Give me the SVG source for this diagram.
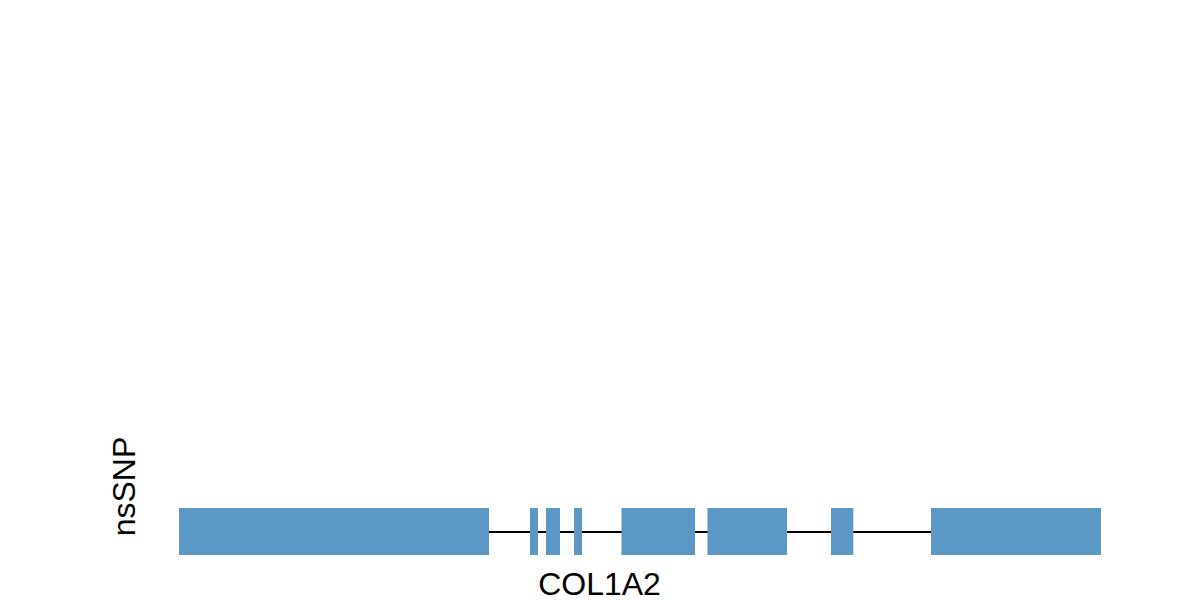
<svg xmlns="http://www.w3.org/2000/svg" width="1200" height="600" viewBox="0 0 1200 600">
<style>
.exon{fill:#5b98c5;}
.lbl{font-family:"Liberation Sans",Arial,sans-serif;font-size:32px;fill:#000;}
</style>
<rect width="1200" height="600" fill="#fff"/>
<g id="connectors">
<line x1="489" y1="532" x2="931" y2="532" stroke="#000" stroke-width="2"/>
</g>
<g id="gene">
<rect class="exon" x="179" y="508" width="310" height="47"/>
<rect class="exon" x="530" y="508" width="8" height="47"/>
<rect class="exon" x="546" y="508" width="14" height="47"/>
<rect class="exon" x="574" y="508" width="8" height="47"/>
<rect class="exon" x="621.5" y="508" width="73.5" height="47"/>
<rect class="exon" x="707.5" y="508" width="79.5" height="47"/>
<rect class="exon" x="831" y="508" width="22.3" height="47"/>
<rect class="exon" x="931" y="508" width="170" height="47"/>
</g>
<g id="label-gene"><text class="lbl" x="599.5" y="595" text-anchor="middle">COL1A2</text></g>
<g id="label-track"><text class="lbl" transform="translate(134.5 486.5) rotate(-90)" text-anchor="middle">nsSNP</text></g>
</svg>
